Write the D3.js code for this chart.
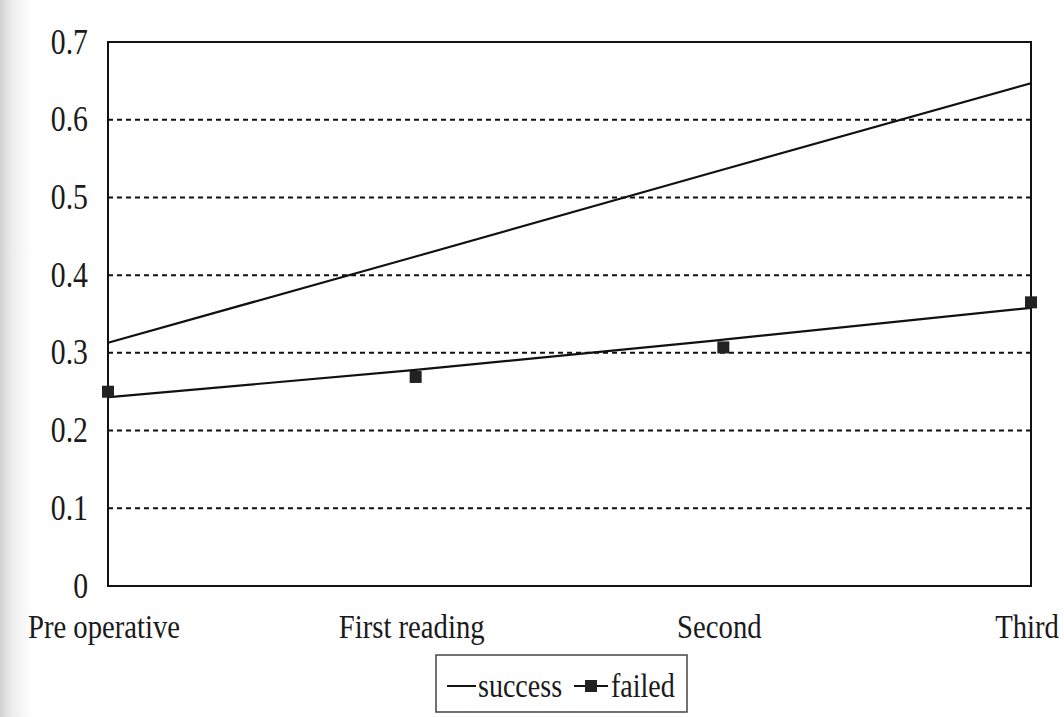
<!DOCTYPE html>
<html>
<head>
<meta charset="utf-8">
<script src="https://cdn.jsdelivr.net/npm/d3@7"></script>
<style>
  html, body { margin: 0; padding: 0; background: #fff; }
  svg { display: block; }
  text { font-family: "Liberation Serif", "DejaVu Serif", serif; fill: #1a1a1a; }
</style>
</head>
<body>
<svg id="chart" width="1064" height="717"></svg>
<script>
// ---- data ----
const categories = ["Pre operative", "First reading", "Second", "Third"];
const successValues = [0.313, 0.424, 0.536, 0.647];
const failedValues = [0.25, 0.269, 0.307, 0.365];
const failedTrend = [0.243, 0.278, 0.317, 0.358];
const yTicks = [0, 0.1, 0.2, 0.3, 0.4, 0.5, 0.6, 0.7];
const yTickLabels = ["0", "0.1", "0.2", "0.3", "0.4", "0.5", "0.6", "0.7"];
const legendLabels = ["success", "failed"];

// ---- layout ----
const svg = d3.select("#chart");
const W = 1064, H = 717;
const plot = { left: 108, right: 1031, top: 42, bottom: 586 };
const squeeze = 0.85; // scanned text is horizontally condensed

// scan shadow on the left edge
const defs = svg.append("defs");
const grad = defs.append("linearGradient").attr("id", "shade").attr("x1", "0").attr("x2", "1");
grad.append("stop").attr("offset", "0").attr("stop-color", "#d2d2d2");
grad.append("stop").attr("offset", "0.35").attr("stop-color", "#ececec");
grad.append("stop").attr("offset", "1").attr("stop-color", "#ffffff");
svg.append("rect").attr("width", W).attr("height", H).attr("fill", "#fff");
svg.append("rect").attr("x", 0).attr("y", 0).attr("width", 32).attr("height", H).attr("fill", "url(#shade)");

const x = d3.scalePoint().domain(categories).range([plot.left, plot.right]);
const y = d3.scaleLinear().domain([0, 0.7]).range([plot.bottom, plot.top]);

// gridlines
svg.append("g").selectAll("line")
  .data(yTicks.filter(t => t > 0 && t < 0.7))
  .join("line")
  .attr("x1", plot.left).attr("x2", plot.right)
  .attr("y1", d => y(d)).attr("y2", d => y(d))
  .attr("stroke", "#111").attr("stroke-width", 2)
  .attr("stroke-dasharray", "5,4");

// plot border
svg.append("rect")
  .attr("x", plot.left).attr("y", plot.top)
  .attr("width", plot.right - plot.left).attr("height", plot.bottom - plot.top)
  .attr("fill", "none").attr("stroke", "#111").attr("stroke-width", 2);

// y axis labels
svg.append("g").selectAll("g")
  .data(yTicks)
  .join("g")
  .attr("transform", d => `translate(${plot.left - 20},${y(d)}) scale(${squeeze},1)`)
  .append("text")
  .attr("text-anchor", "end").attr("dy", "0.33em")
  .style("font-size", "35px").attr("fill", "#2a2a2a")
  .text((d, i) => yTickLabels[i]);

// x axis labels
svg.append("g").selectAll("g")
  .data(categories)
  .join("g")
  .attr("transform", d => `translate(${x(d) - 4},${plot.bottom + 52}) scale(0.87,1)`)
  .append("text")
  .attr("text-anchor", "middle")
  .style("font-size", "33px")
  .text(d => d);

// success line
const line = d3.line().x((d, i) => x(categories[i])).y(d => y(d));
svg.append("path").datum(successValues)
  .attr("d", line).attr("fill", "none")
  .attr("stroke", "#111").attr("stroke-width", 2.2);

// failed trend curve
const curve = d3.line().x((d, i) => x(categories[i])).y(d => y(d)).curve(d3.curveMonotoneX);
svg.append("path").datum(failedTrend)
  .attr("d", curve).attr("fill", "none")
  .attr("stroke", "#111").attr("stroke-width", 2.2);

// failed markers
const ms = 12;
svg.append("g").selectAll("rect")
  .data(failedValues)
  .join("rect")
  .attr("x", (d, i) => x(categories[i]) - ms / 2)
  .attr("y", d => y(d) - ms / 2)
  .attr("width", ms).attr("height", ms)
  .attr("fill", "#222");

// legend
const lg = svg.append("g");
lg.append("rect").attr("x", 436).attr("y", 655).attr("width", 251).attr("height", 57)
  .attr("fill", "#fff").attr("stroke", "#444").attr("stroke-width", 1.5);
lg.append("line").attr("x1", 447).attr("x2", 476).attr("y1", 686).attr("y2", 686)
  .attr("stroke", "#111").attr("stroke-width", 2);
lg.append("g").attr("transform", `translate(478,697) scale(${squeeze},1)`)
  .append("text").style("font-size", "33px").text(legendLabels[0]);
lg.append("line").attr("x1", 574).attr("x2", 608).attr("y1", 686).attr("y2", 686)
  .attr("stroke", "#111").attr("stroke-width", 2);
lg.append("rect").attr("x", 585).attr("y", 680).attr("width", 12).attr("height", 12).attr("fill", "#222");
lg.append("g").attr("transform", `translate(611,697) scale(${squeeze},1)`)
  .append("text").style("font-size", "33px").text(legendLabels[1]);
</script>
</body>
</html>
